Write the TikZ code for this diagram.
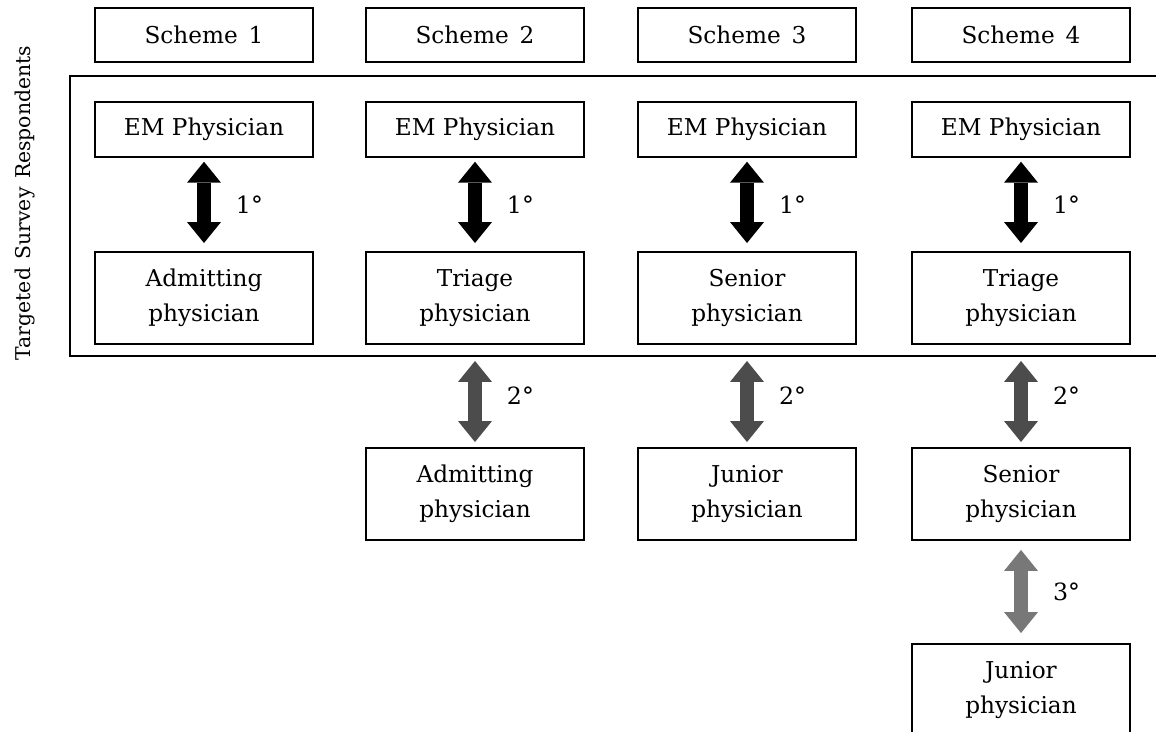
\documentclass[tikz,border=0pt]{standalone}
\usepackage{fontspec}
\setmainfont{DejaVu Serif}
\usetikzlibrary{positioning,arrows.meta}

\definecolor{degOne}{gray}{0.0}
\definecolor{degTwo}{gray}{0.30}
\definecolor{degThree}{gray}{0.47}

\begin{document}
\begin{tikzpicture}[x=0.02cm, y=-0.02cm,
  font=\fontsize{13.2}{20}\selectfont,
  box/.style={draw, line width=1.1pt, minimum width=4.36cm, align=center, inner sep=0pt},
  hdrbox/.style={box, minimum height=1.09cm},
  rolebox/.style={box, minimum height=1.84cm},
  link/.style={line width=0.28cm,
    {Triangle[width=0.68cm,length=0.42cm,line width=0pt]}-{Triangle[width=0.68cm,length=0.42cm,line width=0pt]}},
  deglab/.style={anchor=west, inner sep=0pt, font=\fontsize{13.5}{16}\selectfont}]
  \useasboundingbox (0,0) rectangle (1156,732);

  % Rows (y of centres, in px)
  \def\yHdr{35}
  \def\yEM{129.5}
  \def\yOne{298}
  \def\yTwo{494}
  \def\yThree{690}

  % Frame round the targeted respondents (open at the right)
  \draw[line width=1.1pt] (1156,76) -- (70,76) -- (70,356) -- (1156,356);
  \node[rotate=90, font=\fontsize{11.6}{14}\selectfont] (resp) at (25,203)
    {Targeted\hspace{0.1em} Survey\hspace{0.1em} Respondents};

  % Scheme columns: (index/x/first contact)
  \foreach \i/\xc/\first in {%
    1/204/Admitting\\physician,
    2/475/Triage\\physician,
    3/747/Senior\\physician,
    4/1021/Triage\\physician%
  } {%
    \node[hdrbox] (hdr\i) at (\xc,\yHdr) {Scheme\hspace{0.15em} \i};
    \node[hdrbox] (em\i) at (\xc,\yEM) {EM Physician};
    \node[rolebox] (one\i) at (\xc,\yOne) {\first};
    \draw[link, degOne, shorten <=0.08cm, shorten >=0.16cm] (em\i) -- (one\i)
      node[midway, deglab, xshift=0.5cm, text=black] (lab\i) {1°};
  }

  % Second contact
  \node[rolebox] (two2) at (475,\yTwo) {Admitting\\physician};
  \node[rolebox] (two3) at (747,\yTwo) {Junior\\physician};
  \node[rolebox] (two4) at (1021,\yTwo) {Senior\\physician};
  \foreach \i in {2,3,4} {
    \draw[link, degTwo, shorten <=0.32cm, shorten >=0.1cm] (one\i) -- (two\i)
      node[midway, deglab, xshift=0.5cm, text=black] (labtwo\i) {2°};
  }

  % Third contact (scheme 4 only)
  \node[rolebox] (three4) at (1021,\yThree) {Junior\\physician};
  \draw[link, degThree, shorten <=0.18cm, shorten >=0.2cm] (two4) -- (three4)
    node[midway, deglab, xshift=0.5cm, text=black] (labthree4) {3°};
\end{tikzpicture}
\end{document}
